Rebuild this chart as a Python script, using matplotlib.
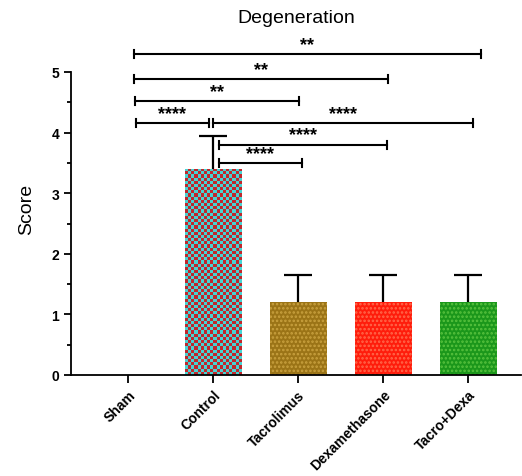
import numpy as np
import matplotlib
matplotlib.use("Agg")
import matplotlib.pyplot as plt

plt.rcParams['font.family'] = ['Liberation Sans', 'DejaVu Sans']
plt.rcParams['hatch.linewidth'] = 1.2

# data
groups = ['Sham', 'Control', 'Tacrolimus', 'Dexamethasone', 'Tacro+Dexa']
scores = [0.0, 3.4, 1.2, 1.2, 1.2]
errs = [0.0, 0.55, 0.45, 0.45, 0.45]
face = ['white', '#45d4d4', '#9b7417', '#ff1d0c', '#1b971b']
dots = ['white', '#c2272b', '#c9a13f', '#ff6a4c', '#58c23e']

# significance brackets: (from, to, height, label)
brackets = [
    (0.07, 4.15, 5.30, '**'),
    (0.07, 3.06, 4.88, '**'),
    (0.08, 2.01, 4.52, '**'),
    (0.09, 0.95, 4.16, '****'),
    (1.00, 4.06, 4.16, '****'),
    (1.07, 3.05, 3.80, '****'),
    (1.07, 2.04, 3.50, '****'),
]

fig = plt.figure(figsize=(5.22, 4.77), dpi=100)
ax = fig.add_axes([71/522, 1-376/477, 450/522, (376-42.7)/477])

x = np.arange(len(groups))
bars = ax.bar(x, scores, width=0.67, color=face, linewidth=0, zorder=2)
for i, b in enumerate(bars):
    if i == 0:
        continue
    if i == 1:
        # checkered fill for control
        nx, ny = 18, int(round(scores[i] * 19))
        chk = (np.add.outer(np.arange(ny), np.arange(nx)) % 2).astype(float)
        cmap = matplotlib.colors.ListedColormap([face[i], dots[i]])
        im = ax.imshow(chk, cmap=cmap, interpolation='nearest', aspect='auto',
                       extent=[b.get_x(), b.get_x() + b.get_width(), 0, b.get_height()],
                       zorder=2.5)
        im.set_clip_path(b)
    else:
        b.set_hatch('....')
        b.set_edgecolor(dots[i])

eb = ax.errorbar(x[1:], scores[1:], yerr=[np.zeros(4), errs[1:]], fmt='none',
                 ecolor='black', elinewidth=1.6, capsize=10, capthick=1.6, zorder=3)
eb[1][0].set_visible(False)  # no cap at the bar top

tk = 0.065
for x0, x1, h, lab in brackets:
    ax.plot([x0, x1], [h, h], color='black', lw=1.5, clip_on=False, zorder=4)
    for xe in (x0, x1):
        ax.plot([xe, xe], [h - tk, h + tk], color='black', lw=1.5, clip_on=False, zorder=4)
    ax.text((x0 + x1) / 2, h + 0.02, lab, ha='center', va='bottom',
            fontsize=13, fontweight='bold')

ax.set_xlim(-0.67, 4.62)
ax.set_ylim(0, 5.5)
ax.spines['top'].set_visible(False)
ax.spines['right'].set_visible(False)
ax.spines['left'].set_bounds(0, 5)
ax.spines['left'].set_linewidth(1.3)
ax.spines['bottom'].set_linewidth(1.3)

ax.set_yticks(np.arange(0, 6, 1))
ax.set_yticks(np.arange(0.5, 5, 1), minor=True)
ax.tick_params(axis='y', which='major', length=5, width=1.3, labelsize=10)
ax.tick_params(axis='y', which='minor', length=3, width=1.3)
for t in ax.get_yticklabels():
    t.set_fontweight('bold')

ax.set_xticks(x)
ax.set_xticklabels(groups, rotation=45, ha='right', rotation_mode='anchor',
                   fontsize=10, fontweight='bold')
ax.tick_params(axis='x', length=6, width=1.3, pad=3)

ax.set_ylabel('Score', fontsize=14, labelpad=12)
ax.set_title('Degeneration', fontsize=14, pad=14)

fig.savefig('out.png', dpi=100)
